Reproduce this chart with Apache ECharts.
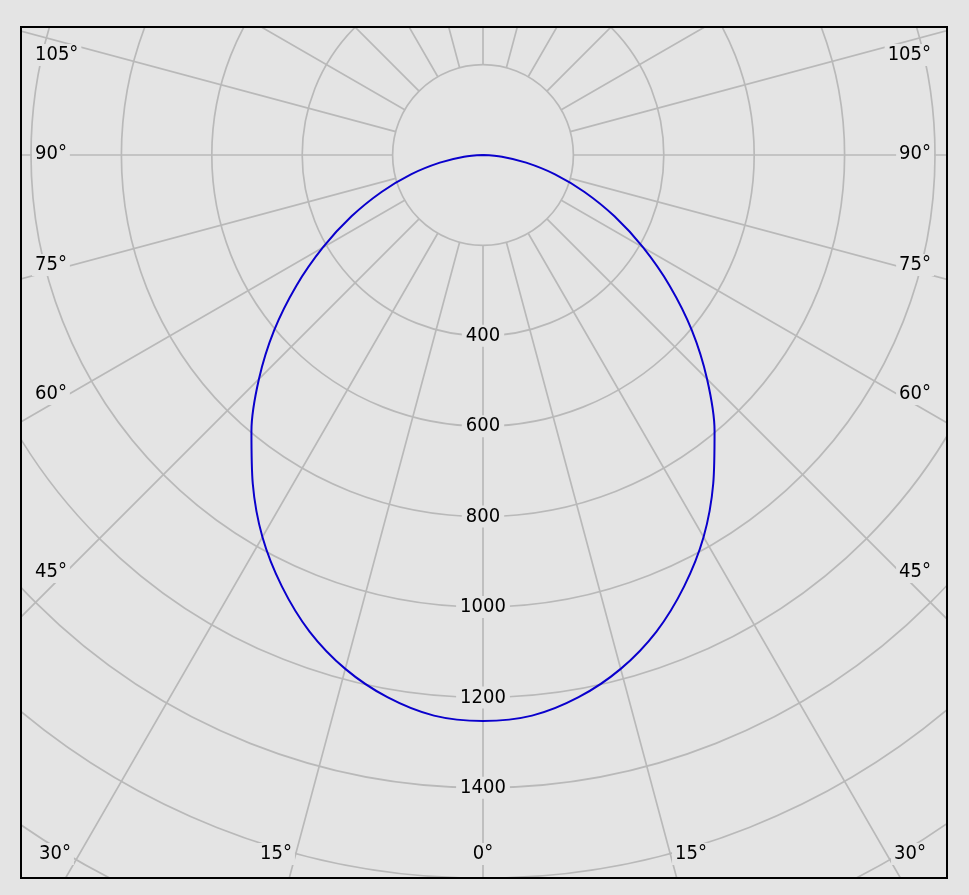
<!DOCTYPE html>
<html>
<head>
<meta charset="utf-8">
<script src="https://cdn.jsdelivr.net/npm/echarts@6/dist/echarts.min.js"></script>
<style>
  html, body { margin: 0; padding: 0; background: #e4e4e4; width: 969px; height: 895px; overflow: hidden; }
  #frame { position: absolute; left: 20px; top: 26px; width: 928px; height: 853px; box-sizing: border-box; border: 2px solid #000; background: #e4e4e4; }
  #chart { width: 924px; height: 849px; }
</style>
</head>
<body>
<div id="frame"><div id="chart"></div></div>
<script>
// Gamma angles (degrees from nadir) and luminous intensity (cd)
const gammaDeg  = [0, 5, 10, 15, 20, 25, 30, 35, 40, 45, 50, 55, 60, 65, 70, 75, 80, 85, 90];
const intensity = [1252, 1245, 1218, 1177, 1122, 1053, 976, 888, 797, 701, 603, 504, 409, 321, 239, 165, 97, 42, 0];

// Radial axis
const radiusMin = 200, radiusMax = 2000, radiusStep = 200;
const radiusTickLabels = [400, 600, 800, 1000, 1200, 1400];

// Angle labels along the frame
const sideAngleLabels   = ['105°', '90°', '75°', '60°', '45°'];
const bottomAngleLabels = ['30°', '15°', '0°', '15°', '30°'];

const BG = '#e4e4e4';
const GRID = '#b9b9b9';
const FONT = '20px "DejaVu Sans Condensed", "Liberation Sans", sans-serif';

const chart = echarts.init(document.getElementById('chart'), null, { renderer: 'canvas' });

const center = [461, 127];
const outerR = 904;
const innerR = outerR * radiusMin / radiusMax;

// Build polar points: left side uses gamma, right side 360 - gamma (clockwise from bottom)
const curve = [];
for (let i = gammaDeg.length - 1; i >= 0; i--) curve.push([intensity[i], 360 - gammaDeg[i]]);
for (let i = 1; i < gammaDeg.length; i++) curve.push([intensity[i], gammaDeg[i]]);

chart.setOption({
  backgroundColor: BG,
  animation: false,
  polar: [
    { center: center, radius: [innerR, outerR] },
    { center: center, radius: [0, outerR] }
  ],
  angleAxis: [
    {
      polarIndex: 0, type: 'value', min: 0, max: 360, interval: 15, startAngle: -90, clockwise: true,
      axisLine: { show: false }, axisTick: { show: false }, axisLabel: { show: false },
      splitLine: { show: true, lineStyle: { color: GRID, width: 1.7 } }
    },
    {
      polarIndex: 1, type: 'value', min: 0, max: 360, startAngle: -90, clockwise: true,
      axisLine: { show: false }, axisTick: { show: false }, axisLabel: { show: false }, splitLine: { show: false }
    }
  ],
  radiusAxis: [
    {
      polarIndex: 0, type: 'value', min: radiusMin, max: radiusMax, interval: radiusStep,
      axisLine: { show: false }, axisTick: { show: false }, axisLabel: { show: false },
      splitLine: { show: true, lineStyle: { color: GRID, width: 1.7 } }
    },
    {
      polarIndex: 1, type: 'value', min: 0, max: radiusMax,
      axisLine: { show: false }, axisTick: { show: false }, axisLabel: { show: false }, splitLine: { show: false }
    }
  ],
  series: [{
    type: 'line',
    coordinateSystem: 'polar',
    polarIndex: 1,
    data: curve,
    symbol: 'none',
    smooth: 0.3,
    clip: false,
    z: 3,
    lineStyle: { color: '#0a00cc', width: 2 }
  }]
});

// Labels
const graphics = [];
radiusTickLabels.forEach(v => {
  const p = chart.convertToPixel({ polarIndex: 1 }, [v, 0]);
  graphics.push({
    type: 'text', x: p[0], y: p[1], z: 10,
    style: { text: String(v), font: FONT, fill: '#000', align: 'center', verticalAlign: 'middle',
             backgroundColor: BG, padding: [1, 4] }
  });
});
const sideYs = [27, 126, 237, 366, 544];
sideAngleLabels.forEach((t, i) => {
  graphics.push({ type: 'text', x: 10, y: sideYs[i], z: 10,
    style: { text: t, font: FONT, fill: '#000', align: 'left', verticalAlign: 'middle', backgroundColor: BG, padding: [1, 3] } });
  graphics.push({ type: 'text', x: 912, y: sideYs[i], z: 10,
    style: { text: t, font: FONT, fill: '#000', align: 'right', verticalAlign: 'middle', backgroundColor: BG, padding: [1, 3] } });
});
const bottomXs = [33, 254, 461, 669, 888];
bottomAngleLabels.forEach((t, i) => {
  graphics.push({ type: 'text', x: bottomXs[i], y: 826, z: 10,
    style: { text: t, font: FONT, fill: '#000', align: 'center', verticalAlign: 'middle', backgroundColor: BG, padding: [1, 3] } });
});
chart.setOption({ graphic: graphics });
</script>
</body>
</html>
